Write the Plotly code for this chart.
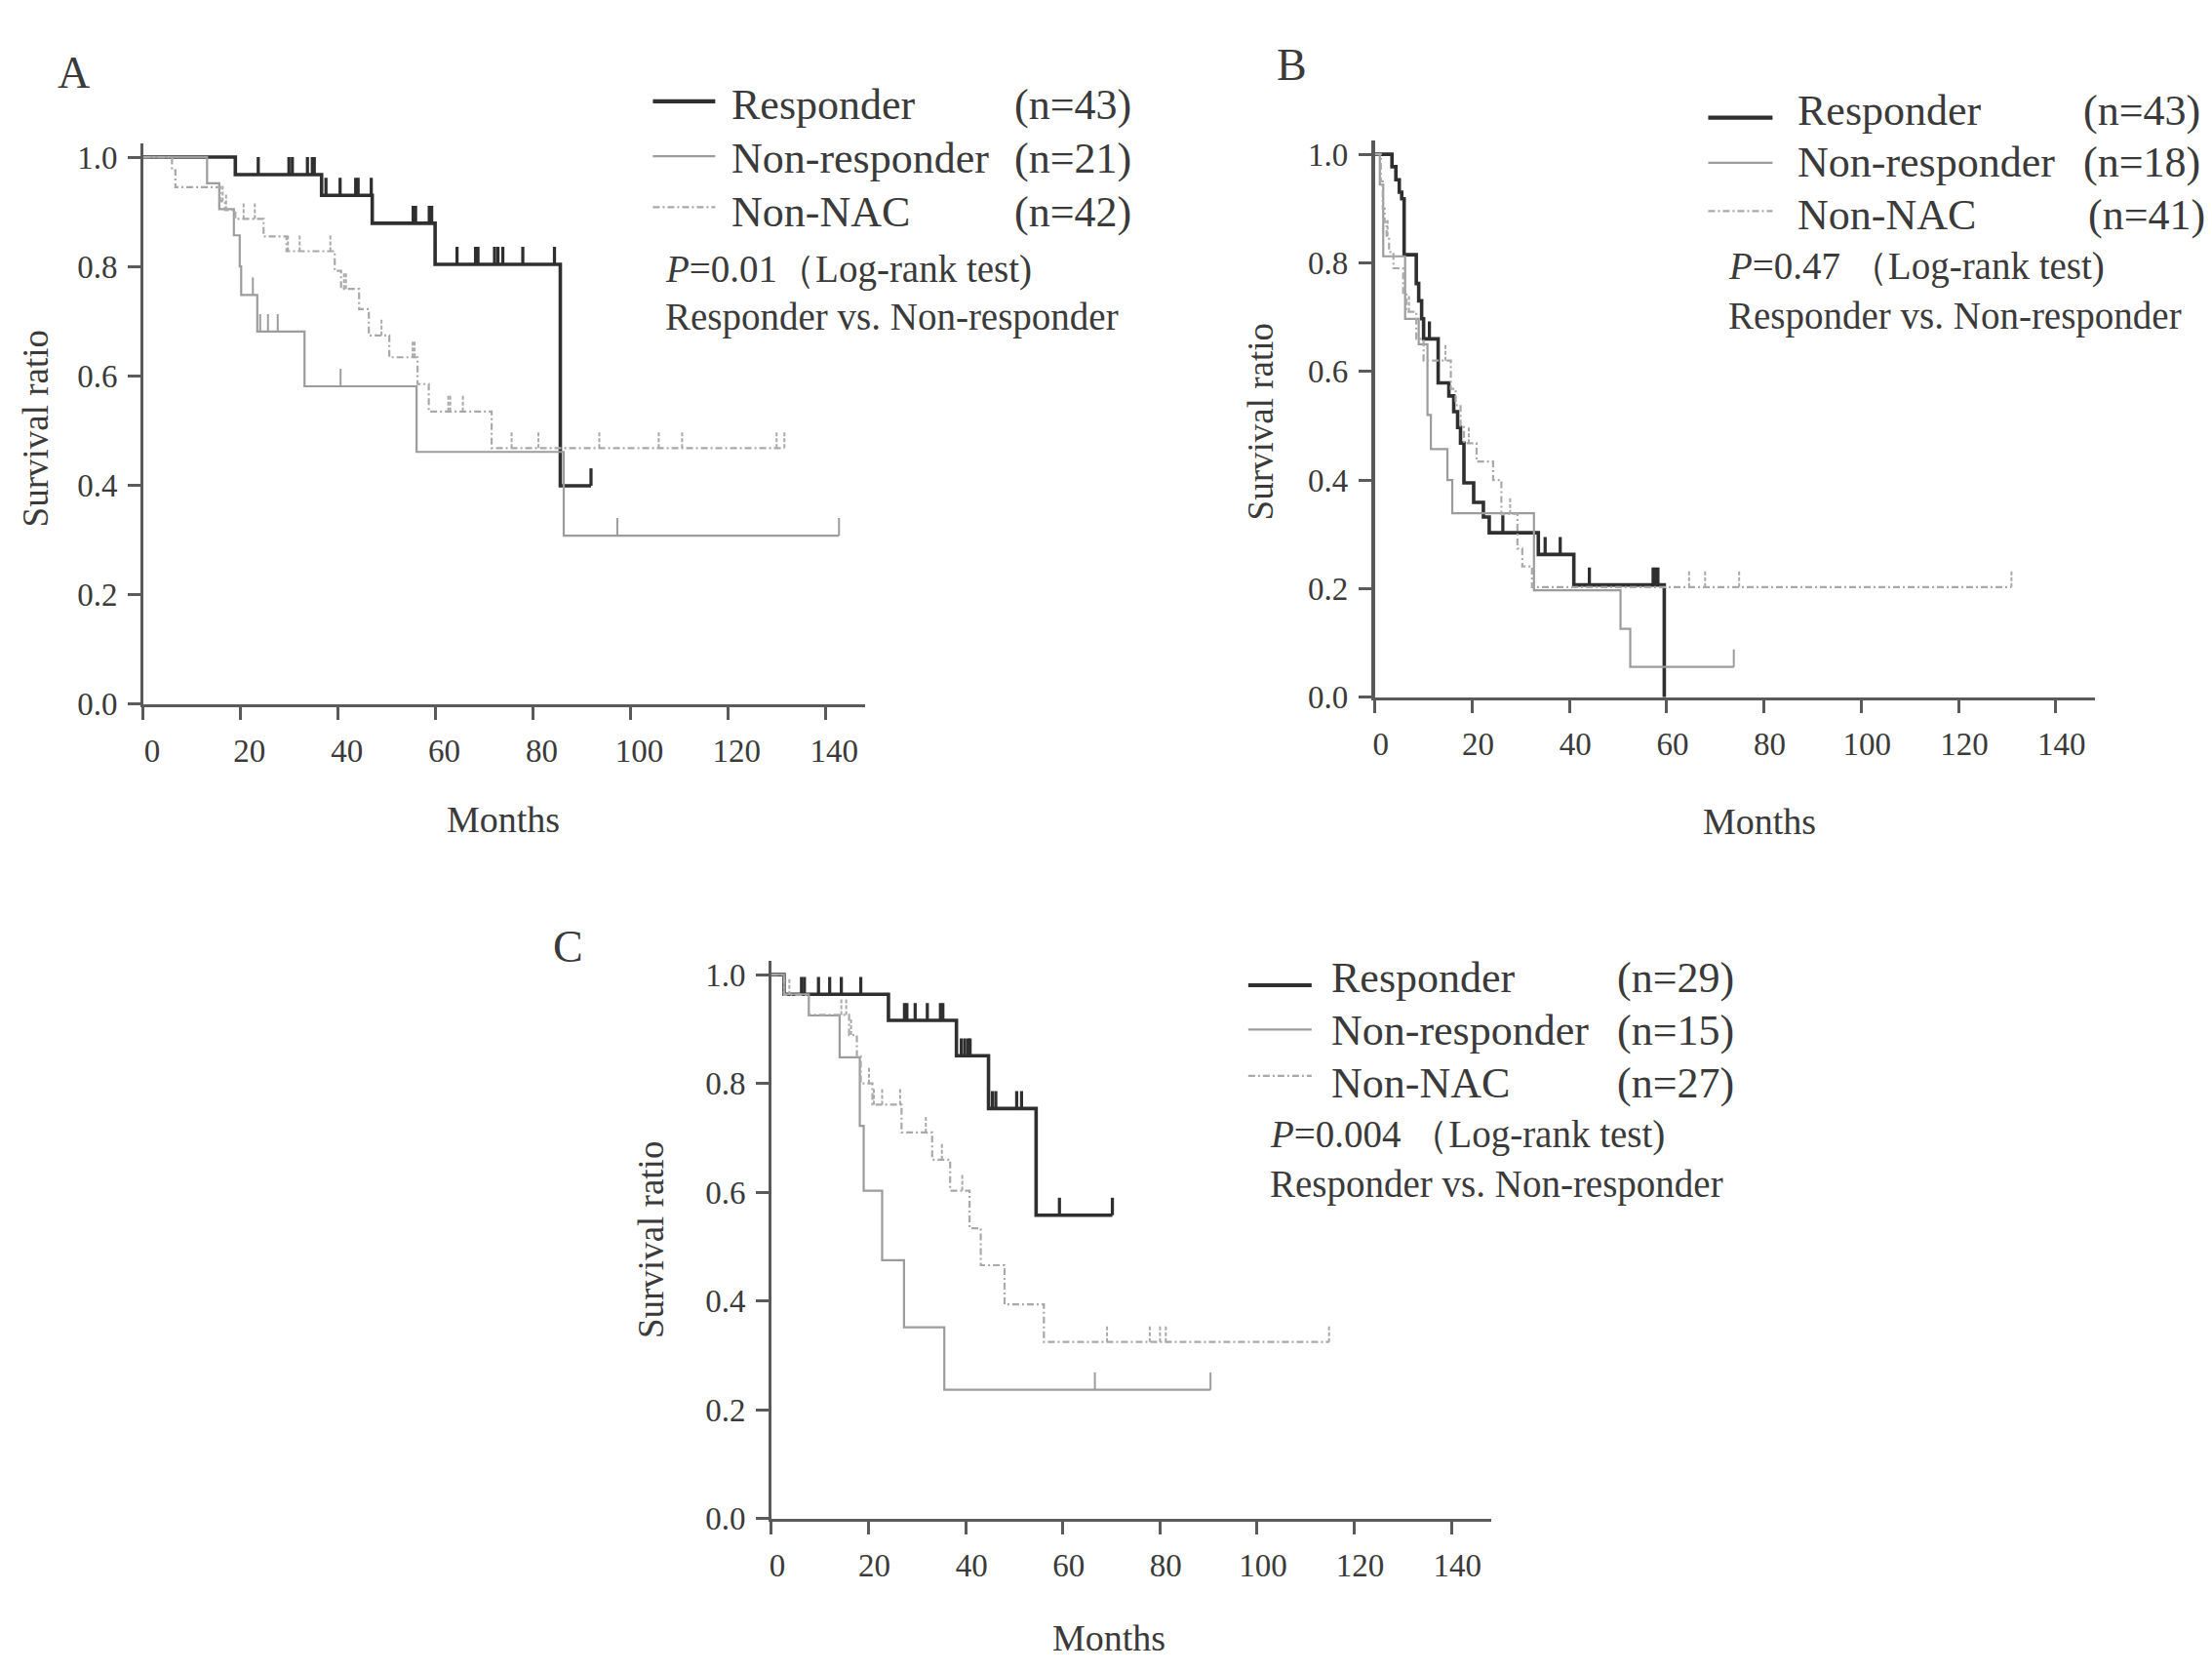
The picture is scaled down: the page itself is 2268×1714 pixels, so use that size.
import numpy as np
import plotly.graph_objects as go

W, H = 2268, 1714

# ---------------- data ----------------
# Panel A
A_resp_t = [18.9, 36.6, 47.0, 59.9, 85.6]
A_resp_s = [0.968, 0.930, 0.879, 0.804, 0.399]
A_resp_c = [23.6, 29.9, 30.6, 33.7, 34.7, 35.1, 37.5, 40.4, 43.6, 44.1, 46.8,
            55.4, 55.9, 58.7, 59.2, 64.4, 68.2, 68.7, 72.1, 72.8, 73.8, 77.9, 84.4, 91.9]
A_nonr_t = [13.1, 15.6, 18.6, 19.8, 20.1, 23.4, 33.1, 56.1, 86.3]
A_nonr_s = [0.952, 0.905, 0.857, 0.800, 0.748, 0.681, 0.581, 0.461, 0.308]
A_nonr_c = [22.5, 24.0, 25.6, 27.6, 40.5, 97.3, 142.8]
A_nnac_t = [5.9, 6.6, 15.8, 16.8, 18.9, 24.7, 29.4, 39.3, 40.6, 44.3, 46.3, 50.5, 56.3, 58.6, 71.5]
A_nnac_s = [0.976, 0.945, 0.919, 0.903, 0.887, 0.855, 0.828, 0.792, 0.759, 0.722, 0.674,
            0.634, 0.585, 0.535, 0.468]
A_nnac_c = [16.3, 17.0, 20.6, 22.9, 29.7, 32.1, 38.4, 41.2, 41.6, 48.9, 55.3, 55.7,
            62.6, 63.0, 65.6, 75.6, 81.1, 93.6, 105.8, 110.6, 130.0, 131.6]

# Panel B
B_resp_t = [3.5, 4.3, 5.0, 5.5, 6.0, 8.5, 9.0, 9.6, 10.0, 13.0, 15.2, 16.2, 17.0, 17.6,
            18.3, 20.3, 22.3, 23.5, 33.6, 40.9, 59.5]
B_resp_s = [0.977, 0.953, 0.930, 0.918, 0.815, 0.762, 0.730, 0.697, 0.660, 0.579, 0.555,
            0.526, 0.497, 0.468, 0.395, 0.359, 0.332, 0.303, 0.263, 0.207, 0.0]
B_resp_c = [11.2, 26.3, 35.0, 38.1, 44.1, 57.2, 57.7, 58.2]
B_nonr_t = [1.0, 1.7, 6.2, 9.0, 10.8, 11.5, 14.9, 15.9, 32.7, 50.5, 52.5]
B_nonr_s = [0.944, 0.812, 0.697, 0.650, 0.520, 0.457, 0.400, 0.339, 0.197, 0.126, 0.056]
B_nonr_c = [73.8]
B_nnac_t = [1.2, 1.6, 2.0, 2.4, 2.9, 3.8, 5.8, 6.5, 8.5, 10.0, 15.6, 16.6, 17.6, 18.3,
            20.9, 24.3, 26.0, 29.3, 30.3, 32.3]
B_nnac_s = [0.950, 0.900, 0.875, 0.850, 0.820, 0.790, 0.745, 0.710, 0.660, 0.620, 0.568,
            0.538, 0.500, 0.468, 0.434, 0.400, 0.338, 0.274, 0.241, 0.203]
B_nnac_c = [2.6, 7.0, 14.5, 19.3, 27.8, 64.6, 67.9, 74.9, 130.9]

# Panel C
C_resp_t = [2.6, 24.1, 38.1, 44.7, 54.5]
C_resp_s = [0.964, 0.916, 0.851, 0.754, 0.558]
C_resp_c = [6.2, 6.8, 9.7, 12.0, 14.4, 18.4, 27.4, 27.9, 29.6, 32.1, 34.8, 35.3,
            39.1, 39.8, 40.5, 40.9, 45.5, 46.2, 50.5, 51.5, 59.3, 70.2]
C_nonr_t = [2.6, 7.7, 14.05, 18.2, 19.0, 22.8, 27.3, 35.6]
C_nonr_s = [0.964, 0.925, 0.848, 0.722, 0.603, 0.475, 0.352, 0.237]
C_nonr_c = [66.6, 90.4]
C_nnac_t = [2.6, 7.7, 16.0, 17.6, 18.4, 20.8, 26.8, 33.1, 36.8, 40.8, 43.1, 48.0, 56.1]
C_nnac_s = [0.963, 0.926, 0.889, 0.850, 0.800, 0.761, 0.710, 0.660, 0.603, 0.534,
            0.466, 0.394, 0.325]
C_nnac_c = [3.7, 14.4, 15.4, 16.4, 20.1, 21.1, 22.8, 26.5, 31.8, 35.1, 39.3,
            69.1, 77.9, 80.0, 81.2, 114.8]

group_names = ["Responder", "Non-responder", "Non-NAC"]
panel_letters = ["A", "B", "C"]
panel_n = [[43, 21, 42], [43, 18, 41], [29, 15, 27]]
panel_p = ["0.01", "0.47", "0.004"]
x_ticks = [0, 20, 40, 60, 80, 100, 120, 140]
y_ticks = [0.0, 0.2, 0.4, 0.6, 0.8, 1.0]

panels = [
    [(A_resp_t, A_resp_s, A_resp_c), (A_nonr_t, A_nonr_s, A_nonr_c), (A_nnac_t, A_nnac_s, A_nnac_c)],
    [(B_resp_t, B_resp_s, B_resp_c), (B_nonr_t, B_nonr_s, B_nonr_c), (B_nnac_t, B_nnac_s, B_nnac_c)],
    [(C_resp_t, C_resp_s, C_resp_c), (C_nonr_t, C_nonr_s, C_nonr_c), (C_nnac_t, C_nnac_s, C_nnac_c)],
]

# ---------------- styles / layout geometry ----------------
FONT = "Liberation Serif"
TXT = "#3a3a3a"
AX = "#5a5a5a"
styles = [
    dict(color="#2f2f2f", width=3.6, dash="solid"),
    dict(color="#9c9c9c", width=2.2, dash="solid"),
    dict(color="#a9a9a9", width=2.2, dash="7px,3px,2px,3px"),
]
TICK_H = 0.032
YMAX = 1.025

# pixel geometry per panel: x of month 0, x of axis end, px per month, y of S=0, y of S=1
geom = [
    dict(x0=137, xend=878, ppm=5.0, y0=720, y1=152, lshift=9, ylw=2.5),
    dict(x0=1401, xend=2140, ppm=4.99, y0=713, y1=149, lshift=6, ylw=4.0),
    dict(x0=781.6, xend=1520, ppm=4.985, y0=1566, y1=1001, lshift=6, ylw=2.5),
]


def step_xy(times, surv, end):
    x = [0.0] + list(times)
    y = [1.0] + list(surv)
    if end > x[-1]:
        x.append(end)
        y.append(y[-1])
    return x, y


def surv_at(t, times, surv):
    i = int(np.searchsorted(np.asarray(times), t, side="right"))
    return 1.0 if i == 0 else surv[i - 1]


def px(x):
    return x / W


def py(y):
    return 1 - y / H


fig = go.Figure()
layout = dict(width=W, height=H, margin=dict(l=0, r=0, t=0, b=0),
              paper_bgcolor="white", plot_bgcolor="white", showlegend=False,
              autosize=False)

for p, series in enumerate(panels):
    g = geom[p]
    xa = "x" if p == 0 else f"x{p + 1}"
    ya = "y" if p == 0 else f"y{p + 1}"
    xmax = (g["xend"] - g["x0"]) / g["ppm"]
    scale = g["y0"] - g["y1"]
    top = g["y0"] - YMAX * scale
    for k, (t, s, c) in enumerate(series):
        st = styles[k]
        end = max(list(t) + list(c))
        x, y = step_xy(t, s, end)
        fig.add_trace(go.Scatter(x=x, y=y, mode="lines", line_shape="hv",
                                 line=dict(color=st["color"], width=st["width"], dash=st["dash"]),
                                 xaxis=xa, yaxis=ya, hoverinfo="skip"))
        cx, cy = [], []
        for tc in c:
            v = surv_at(tc, t, s)
            cx += [tc, tc, None]
            cy += [v, v + TICK_H, None]
        fig.add_trace(go.Scatter(x=cx, y=cy, mode="lines",
                                 line=dict(color=st["color"], width=st["width"] * 0.9,
                                           dash="solid" if k < 2 else "4px,2px"),
                                 xaxis=xa, yaxis=ya, hoverinfo="skip"))
    axis_common = dict(showline=True, linecolor=AX, linewidth=2.5, ticks="outside",
                       ticklen=13, tickwidth=2.5, tickcolor=AX, showgrid=False, zeroline=False,
                       tickfont=dict(family=FONT, size=33, color=TXT))
    layout["xaxis" if p == 0 else f"xaxis{p + 1}"] = dict(
        axis_common, domain=[px(g["x0"]), px(g["xend"])], range=[0, xmax],
        tickvals=x_ticks, ticktext=[str(v) for v in x_ticks], anchor=ya,
        ticklabelshift=g["lshift"], ticklabelstandoff=4)
    layout["yaxis" if p == 0 else f"yaxis{p + 1}"] = dict(
        axis_common, domain=[py(g["y0"]), py(top)], range=[0, YMAX],
        tickvals=y_ticks, ticktext=[f"{v:.1f}" for v in y_ticks], anchor=xa,
        ticklabelstandoff=4)
    layout["yaxis" if p == 0 else f"yaxis{p + 1}"]["linewidth"] = g["ylw"]

fig.update_layout(**layout)

# ---------------- text & legend decorations ----------------
ann = []
shapes = []


def text(x, y, s, size, xanchor="left", angle=0):
    ann.append(dict(x=px(x), y=py(y), xref="paper", yref="paper", text=s, showarrow=False,
                    xanchor=xanchor, yanchor="middle", textangle=angle,
                    font=dict(family=FONT, size=size, color=TXT)))


letter_pos = [(66, 64), (1316, 56), (573, 972)]
ytitle_pos = [(26, 434), (1284, 427), (658, 1276)]
xtitle_pos = [(506, 840), (1796, 842), (1128, 1690)]
leg = [
    dict(lx0=660, lx1=724, tx=739, nx=[1029, 1029, 1029], rows=[98, 153, 209], lines=[94, 151, 204],
         px_=671, py_=268, vy=318, psp=""),
    dict(lx0=1743, lx1=1809, tx=1833, nx=[2126, 2126, 2131], rows=[104, 158, 212], lines=[111, 158, 208],
         px_=1762, py_=265, vy=317, psp=" "),
    dict(lx0=1271, lx1=1336, tx=1354, nx=[1647, 1647, 1647], rows=[1004, 1059, 1114], lines=[1012, 1058, 1106],
         px_=1291, py_=1167, vy=1219, psp=" "),
]

for p in range(3):
    text(*letter_pos[p], panel_letters[p], 46, xanchor="center")
    text(*ytitle_pos[p], "Survival ratio", 37, xanchor="center", angle=-90)
    text(*xtitle_pos[p], "Months", 38, xanchor="center")
    L = leg[p]
    for k in range(3):
        st = styles[k]
        shapes.append(dict(type="line", xref="paper", yref="paper",
                           x0=px(L["lx0"]), x1=px(L["lx1"]), y0=py(L["lines"][k]), y1=py(L["lines"][k]),
                           line=dict(color=st["color"], width=st["width"] + (0.6 if k == 0 else 0),
                                     dash=st["dash"])))
        text(L["tx"], L["rows"][k], group_names[k], 44)
        text(L["nx"][k], L["rows"][k], f"(n={panel_n[p][k]})", 44)
    text(L["px_"], L["py_"], "<i>P</i>=" + panel_p[p] + L["psp"] + "（Log-rank test)", 39)
    text(L["px_"], L["vy"], "Responder vs. Non-responder", 39)

fig.update_layout(annotations=ann, shapes=shapes)
fig.write_html("out.html")
